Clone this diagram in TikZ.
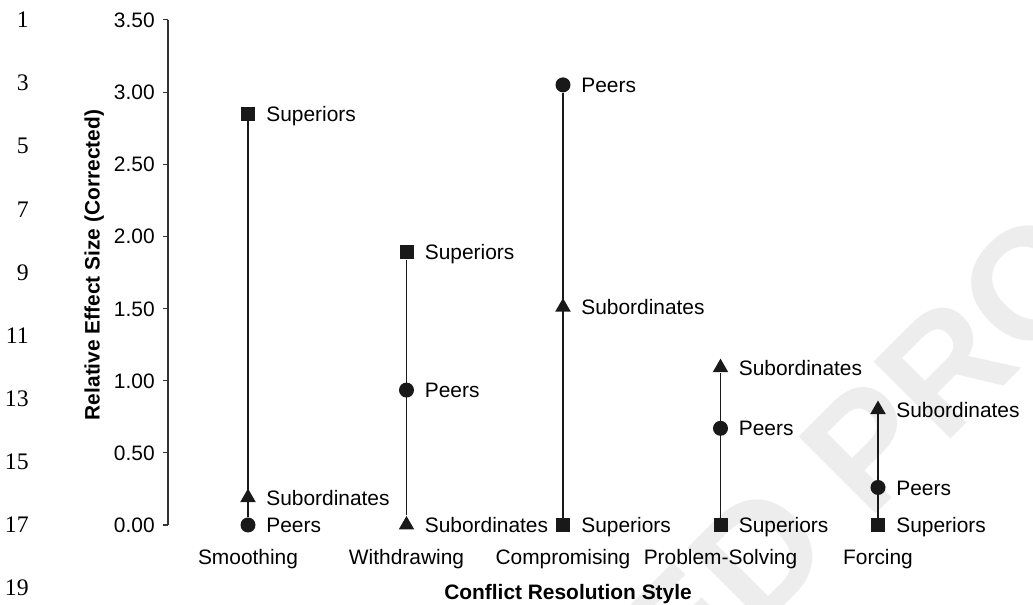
\documentclass[tikz,border=0pt]{standalone}
\usepackage{fontspec}
\setmainfont{Liberation Sans}
\newfontfamily\linefont{Liberation Serif}
\usepackage{xcolor}
\usetikzlibrary{shapes.geometric}

\tikzset{
  txt/.style={font=\fontsize{11.9}{14}\selectfont, inner sep=0pt, text height=8.6pt, text depth=0pt},
  lbl/.style={txt, anchor=west},
  mk/.style={fill=black!90, draw=none, inner sep=0pt},
  sqmk/.style={mk, rectangle, minimum size=0.28cm},
  cirmk/.style={mk, circle, minimum size=0.3cm},
  trimk/.style={mk, regular polygon, regular polygon sides=3, minimum size=0.36cm},
  stem/.style={black!90, line width=0.75pt},
}

\begin{document}
\begin{tikzpicture}
  % 1 unit of effect size = 2.886cm, styles 3.15cm apart
  \def\sy{2.886}
  \useasboundingbox (-3.36,-1.6) rectangle (17.3,10.5);
  % Proof watermark
  \begin{scope}
    \clip (-3.36,-1.6) rectangle (17.3,10.5);
    \node[rotate=45, text=gray!14, font=\bfseries\fontsize{90}{90}\selectfont,
      inner sep=0pt, anchor=base east] (wm) at (21.98,8.04) {UNCORRECTED PROOF};
  \end{scope}
  % Line numbers
  \foreach \n [count=\k from 0] in {1,3,...,19} {
    \node[font=\linefont\fontsize{13.5}{15}\selectfont, inner sep=0pt, anchor=east]
      (ln\n) at (-2.78,{10.1-1.262*\k}) {\n};
  }
  % Axis
  \coordinate (ax0) at (0,0);
  \coordinate (ax1) at (0,{3.5*\sy});
  \draw[black!80, line width=0.6pt] (ax0) -- (ax1);
  \foreach \v in {0.00,0.50,1.00,1.50,2.00,2.50,3.00,3.50} {
    \draw[black!80, line width=0.6pt] (-0.1,{\v*\sy}) -- (0,{\v*\sy});
    \node[txt, anchor=east] at (-0.26,{\v*\sy}) {\v};
  }
  \node[txt, font=\bfseries\fontsize{11.9}{14}\selectfont, rotate=90] (ylab) at (-1.52,5.2)
    {Relative Effect Size (Corrected)};
  % Styles: x / name / superiors / peers / subordinates
  \foreach \x/\cat/\vsup/\vpeer/\vsub [count=\i] in
      {1.6/Smoothing/2.85/0/0.19, 4.77/Withdrawing/1.89/0.935/0,
       7.9/Compromising/0/3.05/1.51, 11.05/Problem-Solving/0/0.67/1.09,
       14.2/Forcing/0/0.26/0.80} {
    \node[sqmk] (sup\i) at (\x,{\vsup*\sy}) {};
    \node[cirmk] (peer\i) at (\x,{\vpeer*\sy}) {};
    \node[trimk] (sub\i) at (\x,{\vsub*\sy}) {};
    \node[lbl] (supl\i) at (\x+0.36,{\vsup*\sy}) {Superiors};
    \node[lbl] (peerl\i) at (\x+0.36,{\vpeer*\sy}) {Peers};
    \node[lbl] (subl\i) at (\x+0.36,{\vsub*\sy}) {Subordinates};
    \node[txt] (cat\i) at (\x,-0.64) {\cat};
  }
  % Range stems
  \draw[stem] (peer1) -- (sup1);
  \draw[stem] (sub2) -- (sup2);
  \draw[stem] (sup3) -- (peer3);
  \draw[stem] (sup4) -- (sub4);
  \draw[stem] (sup5) -- (sub5);
  \node[txt, font=\bfseries\fontsize{11.9}{14}\selectfont] (xlab) at (8.0,-1.34)
    {Conflict Resolution Style};
\end{tikzpicture}
\end{document}
